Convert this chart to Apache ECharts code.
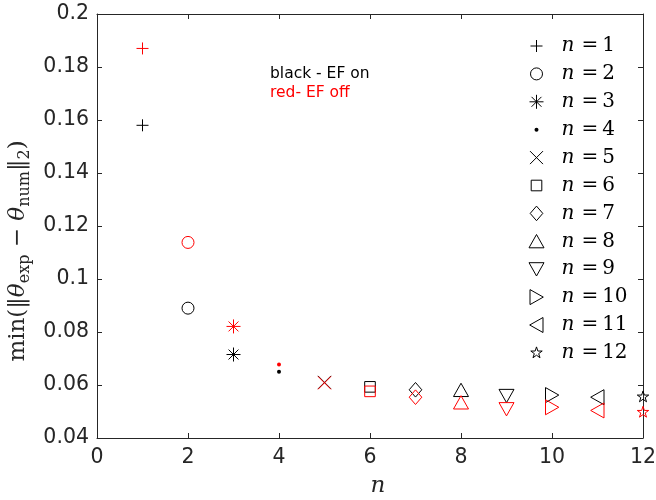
<!DOCTYPE html>
<html>
<head>
<meta charset="utf-8">
<script src="https://cdn.jsdelivr.net/npm/echarts@6/dist/echarts.min.js"></script>
<style>html,body{margin:0;padding:0;background:#fff;}#c{width:656px;height:500px;}</style>
</head>
<body>
<div id="c"></div>
<script>
// ---- data ----
const nValues = [1, 2, 3, 4, 5, 6, 7, 8, 9, 10, 11, 12];
const efOn  = [0.158, 0.089, 0.0715, 0.065, 0.061, 0.0593, 0.0582, 0.0581, 0.0559, 0.0562, 0.0554, 0.0555];
const efOff = [0.187, 0.1138, 0.0821, 0.0677, 0.0608, 0.0576, 0.0554, 0.0534, 0.0509, 0.0516, 0.0504, 0.0497];
const legendNames = ['n = 1','n = 2','n = 3','n = 4','n = 5','n = 6','n = 7','n = 8','n = 9','n = 10','n = 11','n = 12'];
const xTicks = { min: 0, max: 12, interval: 2 };
const yTicks = { min: 0.04, max: 0.2, interval: 0.02 };

// ---- marker shapes (pixel frame -9..9) ----
const F = 'M-9,-9M9,9';
const shapes = [
  { p: 'M0,-6L0,6M-6,0L6,0', fill: false },
  { p: 'M-6,0A6,6,0,1,1,6,0A6,6,0,1,1,-6,0Z', fill: false },
  { p: 'M0,-7L0,7M-7,0L7,0M-4.95,-4.95L4.95,4.95M-4.95,4.95L4.95,-4.95', fill: false },
  { p: 'M-2,0A2,2,0,1,1,2,0A2,2,0,1,1,-2,0Z', fill: true },
  { p: 'M-6.5,-6.5L6.5,6.5M-6.5,6.5L6.5,-6.5', fill: false },
  { p: 'M-5.3,-5.3L5.3,-5.3L5.3,5.3L-5.3,5.3Z', fill: false },
  { p: 'M0,-7.3L6.3,0L0,7.3L-6.3,0Z', fill: false },
  { p: 'M0,-6.8L7.5,6.5L-7.5,6.5Z', fill: false },
  { p: 'M0,6.8L7.5,-6.5L-7.5,-6.5Z', fill: false },
  { p: 'M6.8,0L-6.5,-7.5L-6.5,7.5Z', fill: false },
  { p: 'M-6.8,0L6.5,-7.5L6.5,7.5Z', fill: false },
  { p: 'M0,-6L1.352,-1.861L5.706,-1.854L2.187,0.711L3.527,4.854L0,2.3L-3.527,4.854L-2.187,0.711L-5.706,-1.854L-1.352,-1.861Z', fill: false }
];
function styleFor(shape, col) {
  return shape.fill
    ? { color: col, borderColor: col, borderWidth: 0, opacity: 1 }
    : { color: 'rgba(0,0,0,0)', borderColor: col, borderWidth: 1, opacity: 1 };
}

const series = [];
nValues.forEach((n, i) => {
  series.push({
    name: legendNames[i], type: 'scatter', symbol: 'path://' + F + shapes[i].p,
    symbolSize: 18, data: [[n, efOn[i]]], itemStyle: styleFor(shapes[i], '#000000'),
    emphasis: { disabled: true }, z: 2
  });
});
nValues.forEach((n, i) => {
  series.push({
    name: 'off ' + legendNames[i], type: 'scatter', symbol: 'path://' + F + shapes[i].p,
    symbolSize: 18, data: [[n, efOff[i]]], itemStyle: styleFor(shapes[i], '#ff0000'),
    emphasis: { disabled: true }, z: 3
  });
});

const axisColor = '#262626';
const sans = 'DejaVu Sans';
const labelFont = { fontFamily: sans, fontSize: 20.5, color: axisColor };
const serif = 'DejaVu Serif';

const chart = echarts.init(document.getElementById('c'), null, { renderer: 'canvas' });
chart.setOption({
  animation: false,
  backgroundColor: '#ffffff',
  grid: { left: 97, right: 13, top: 14, bottom: 62, containLabel: false, outerBoundsMode: 'none' },
  xAxis: [{
    type: 'value', min: xTicks.min, max: xTicks.max, interval: xTicks.interval,
    splitLine: { show: false },
    axisLine: { show: true, onZero: false, lineStyle: { color: axisColor, width: 1 } },
    axisTick: { show: true, inside: true, length: 5, lineStyle: { color: axisColor } },
    axisLabel: Object.assign({ margin: 9 }, labelFont),
    name: '{i|n}', nameLocation: 'middle', nameGap: 37,
    nameTextStyle: { padding: [0, 0, 0, 16], rich: { i: { fontFamily: serif, fontStyle: 'italic', fontSize: 23, color: axisColor } } }
  }, {
    type: 'value', position: 'top', min: xTicks.min, max: xTicks.max, interval: xTicks.interval,
    splitLine: { show: false },
    axisLine: { show: true, onZero: false, lineStyle: { color: axisColor, width: 1 } },
    axisTick: { show: true, inside: true, length: 5, lineStyle: { color: axisColor } },
    axisLabel: { show: false }
  }],
  yAxis: [{
    type: 'value', min: yTicks.min, max: yTicks.max, interval: yTicks.interval,
    splitLine: { show: false },
    axisLine: { show: true, onZero: false, lineStyle: { color: axisColor, width: 1 } },
    axisTick: { show: true, inside: true, length: 5, lineStyle: { color: axisColor } },
    axisLabel: Object.assign({ margin: 8, formatter: v => String(+v.toFixed(2)) }, labelFont),
    name: '{r|min(‖}{t|θ}{s|exp}{r| − }{t|θ}{s|num}{r|‖}{s|2}{r|)}',
    nameLocation: 'middle', nameGap: 63,
    nameTextStyle: { padding: [0, 50, 0, 0], rich: {
      r: { fontFamily: serif, fontSize: 23, color: axisColor, lineHeight: 28 },
      t: { fontFamily: serif, fontStyle: 'italic', fontSize: 23, color: axisColor, lineHeight: 28 },
      s: { fontFamily: serif, fontSize: 16, color: axisColor, lineHeight: 16, verticalAlign: 'bottom' }
    } }
  }, {
    type: 'value', position: 'right', min: yTicks.min, max: yTicks.max, interval: yTicks.interval,
    splitLine: { show: false },
    axisLine: { show: true, onZero: false, lineStyle: { color: axisColor, width: 1 } },
    axisTick: { show: true, inside: true, length: 5, lineStyle: { color: axisColor } },
    axisLabel: { show: false }
  }],
  legend: {
    orient: 'vertical', left: 522, top: 31,
    itemWidth: 18, itemHeight: 18, itemGap: 7.9,
    selectedMode: false,
    itemStyle: { borderWidth: 1 },
    data: legendNames.map((nm, i) => ({ name: nm, itemStyle: styleFor(shapes[i], '#000000') })),
    formatter: nm => '{i|n}{e|=}{r|' + nm.slice(4) + '}',
    textStyle: { padding: [0, 0, 0, 11], rich: {
      i: { fontFamily: serif, fontStyle: 'italic', fontSize: 20, color: '#000', lineHeight: 18 },
      e: { fontFamily: serif, fontSize: 20, color: '#000', lineHeight: 18, padding: [0, 4, 0, 7] },
      r: { fontFamily: serif, fontSize: 20, color: '#000', lineHeight: 18 }
    } }
  },
  graphic: [
    { type: 'text', left: 270, top: 66, style: { text: 'black - EF on', fontFamily: sans, fontSize: 15.5, fill: '#000' } },
    { type: 'text', left: 270, top: 85, style: { text: 'red- EF off', fontFamily: sans, fontSize: 15.5, fill: '#ff0000' } }
  ],
  series: series
});
</script>
</body>
</html>
